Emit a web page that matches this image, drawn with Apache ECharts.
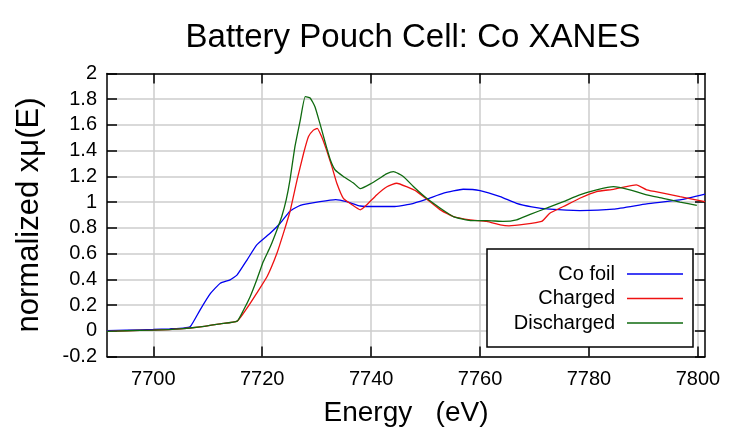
<!DOCTYPE html>
<html><head><meta charset="utf-8">
<script src="https://cdn.jsdelivr.net/npm/echarts@6/dist/echarts.min.js"></script>
<style>html,body{margin:0;padding:0;background:#fff}#c{width:739px;height:439px}</style>
</head><body><div id="c"></div>
<script>
const xTicks = [7700, 7720, 7740, 7760, 7780, 7800];
const seriesNames = ['Co foil', 'Charged', 'Discharged'];

const coFoilE  = [7691.5,7695,7700,7703,7705.5,7706.8,7708.6,7710.5,7712.3,7714.1,7715.4,7717.2,7719.0,7721.5,7723.3,7725.1,7727.0,7730.6,7733.5,7735.5,7738,7741,7744.1,7747.2,7750.2,7753.3,7756.9,7760,7763.7,7766.7,7769.5,7772.8,7778.3,7784.5,7790.6,7796.7,7801.3];
const coFoilMu = [0.0,0.005,0.01,0.015,0.02,0.033,0.163,0.29,0.37,0.396,0.435,0.55,0.668,0.76,0.836,0.93,0.975,1.004,1.02,1.004,0.97,0.966,0.966,0.984,1.023,1.07,1.10,1.09,1.043,0.99,0.963,0.945,0.934,0.945,0.986,1.017,1.062];

const chargedE  = [7691.5,7695,7700,7705,7708.6,7712.3,7715.4,7717.2,7719,7720.9,7722.7,7723.9,7725.1,7726.4,7727.6,7728.5,7729.4,7730.1,7730.9,7731.8,7732.8,7733.7,7734.9,7736.5,7738,7739.2,7741,7742.9,7744.7,7746.5,7748.4,7750.2,7752.7,7755.1,7758.2,7761.2,7763.7,7765.3,7771.3,7772.8,7775.3,7778.3,7781.4,7784.5,7788.7,7790.6,7793.6,7796.7,7801.3];
const chargedMu = [-0.005,0.0,0.005,0.015,0.03,0.054,0.075,0.176,0.293,0.422,0.603,0.759,0.927,1.173,1.38,1.51,1.56,1.574,1.51,1.406,1.276,1.147,1.03,0.979,0.94,0.979,1.056,1.12,1.147,1.12,1.082,1.023,0.94,0.888,0.862,0.85,0.823,0.815,0.85,0.914,0.966,1.03,1.082,1.10,1.134,1.095,1.07,1.043,1.004];

const dischargedE  = [7691.5,7695,7700,7705,7708.6,7712.3,7715.4,7716.6,7717.8,7719,7720.2,7721.5,7722.7,7723.6,7724.4,7725.1,7726,7727,7727.9,7728.8,7729.7,7730.6,7731.6,7732.5,7733.4,7734.9,7736.8,7738,7739.8,7741.7,7742.8,7744.1,7745.9,7747.8,7750.2,7752.7,7755.1,7758.2,7761.2,7764.3,7766.7,7769.2,7772.2,7775.3,7778.3,7781.4,7784.5,7787.5,7790.6,7793.6,7796.7,7799.8];
const dischargedMu = [-0.005,0.0,0.005,0.015,0.03,0.054,0.075,0.163,0.266,0.396,0.538,0.655,0.784,0.89,1.017,1.173,1.43,1.64,1.82,1.81,1.74,1.61,1.458,1.33,1.25,1.20,1.147,1.105,1.14,1.19,1.22,1.237,1.2,1.12,1.03,0.953,0.888,0.857,0.857,0.85,0.862,0.905,0.953,1.004,1.056,1.095,1.12,1.095,1.056,1.03,1.0,0.975];

const colors = ['#0000f0', '#ee1111', '#0f6a0f'];
const zip = (a, b) => a.map((v, i) => [v, b[i]]);
const seriesData = [zip(coFoilE, coFoilMu), zip(chargedE, chargedMu), zip(dischargedE, dischargedMu)];

const font = 'Liberation Sans, Arial, sans-serif';
const chart = echarts.init(document.getElementById('c'));
const axisLine = { show: true, onZero: false, lineStyle: { color: '#000', width: 1.5 } };
const tick = { show: true, inside: true, length: 10, lineStyle: { color: '#000', width: 1.5 } };

const legends = seriesNames.map((n, i) => ({
  data: [n], orient: 'vertical', align: 'right', right: 56, top: 264 + i * 24.5,
  padding: 0, itemWidth: 56, itemHeight: 1.6, itemGap: 0, icon: 'rect',
  itemStyle: { color: colors[i], borderWidth: 0 },
  textStyle: { fontFamily: font, fontSize: 20, color: '#000', padding: [0, 7, 0, 0] }
}));

chart.setOption({
  animation: false,
  backgroundColor: '#fff',
  title: { text: 'Battery Pouch Cell: Co XANES', left: 408, top: 16, textAlign: 'center',
    textStyle: { fontFamily: font, fontSize: 33, fontWeight: 'normal', color: '#000' } },
  grid: { left: 107, right: 34, top: 73.5, bottom: 82.5, containLabel: false },
  legend: legends,
  graphic: [{ type: 'rect', z: 3, shape: { x: 487, y: 249, width: 206, height: 98 },
    style: { fill: '#fff', stroke: '#000', lineWidth: 1.5 } }],
  xAxis: [
    { type: 'value', min: 7691.5, max: 7801.3, position: 'bottom',
      name: 'Energy   (eV)', nameLocation: 'middle', nameGap: 43,
      nameTextStyle: { fontFamily: font, fontSize: 28, color: '#000' },
      axisLine, axisTick: Object.assign({ customValues: xTicks }, tick),
      axisLabel: { customValues: xTicks, fontFamily: font, fontSize: 20, color: '#000', margin: 13,
        formatter: v => String(v) },
      splitLine: { show: true, lineStyle: { color: '#cccccc', width: 1.5 } } },
    { type: 'value', min: 7691.5, max: 7801.3, position: 'top',
      axisLine, axisTick: Object.assign({ customValues: xTicks }, tick),
      axisLabel: { show: false }, splitLine: { show: false } }
  ],
  yAxis: [
    { type: 'value', min: -0.2, max: 2, interval: 0.2, position: 'left',
      name: 'normalized xμ(E)', nameLocation: 'middle', nameGap: 62,
      nameTextStyle: { fontFamily: font, fontSize: 31, color: '#000' },
      axisLine, axisTick: tick,
      axisLabel: { fontFamily: font, fontSize: 20, color: '#000', margin: 10,
        formatter: v => String(Math.round(v * 10) / 10) },
      splitLine: { show: true, lineStyle: { color: '#cccccc', width: 1.5 } } },
    { type: 'value', min: -0.2, max: 2, interval: 0.2, position: 'right',
      axisLine, axisTick: tick, axisLabel: { show: false }, splitLine: { show: false } }
  ],
  series: seriesNames.map((n, i) => ({
    name: n, type: 'line', data: seriesData[i], symbol: 'none', smooth: 0.15,
    lineStyle: { color: colors[i], width: 1.3 }, itemStyle: { color: colors[i] }, z: 2
  }))
});
</script></body></html>
